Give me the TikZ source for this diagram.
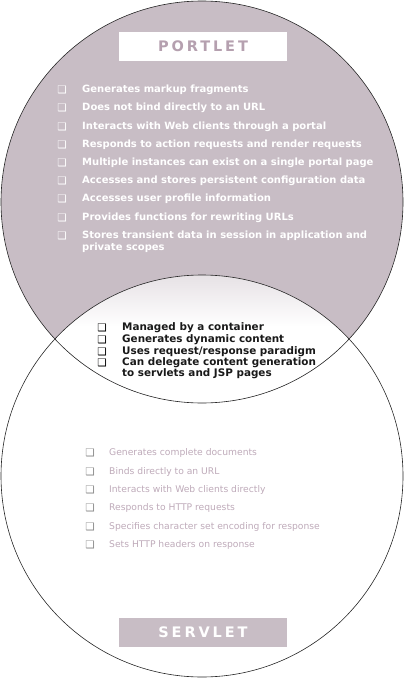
\documentclass[tikz,border=0pt]{standalone}
\usepackage{fontspec}
\setmainfont{DejaVu Sans}
\usepackage{tikz}

\definecolor{mauve}{RGB}{200,189,197}
\definecolor{mauvetext}{RGB}{181,160,175}
\definecolor{servtext}{RGB}{190,170,185}
\pgfdeclareverticalshading{lensshade}{100bp}{color(0bp)=(black!12); color(12bp)=(white); color(55bp)=(white); color(100bp)=(mauve)}

\begin{document}
\begin{tikzpicture}[x=1pt, y=-1pt]
	  \tikzstyle{every node} = [inner sep=0pt]
	  \tikzstyle{titlebox} = [minimum width=168pt, minimum height=29pt, font=\bfseries\fontsize{14.5}{15}\selectfont\addfontfeature{LetterSpace=20}]
	  \tikzstyle{bullet} = [font=\fontsize{10.5}{10.5}\selectfont]
	  \tikzstyle{item} = [anchor=west, text height=7.3pt, text depth=2pt, font=\bfseries\fontsize{10}{10}\selectfont]
	  \tikzstyle{bothitem} = [item, text=black!90, font=\bfseries\fontsize{10.4}{10.4}\selectfont]
	  \tikzstyle{servitem} = [anchor=west, text=servtext, text height=6.8pt, text depth=1.9pt, font=\fontsize{9.2}{9.2}\selectfont]
	  \useasboundingbox (0,0) rectangle (405,679);
	  % the two circles and their common part
	  \fill[mauve] (202,202) circle (201pt);
	  \begin{scope}
	  \clip (202,202) circle (201pt);
	  \clip (202,476) circle (201pt);
	  \shade[shading=lensshade] (0,275) rectangle (405,404);
	  \end{scope}
	  \draw[line width=0.6pt, black!85] (202,202) circle (201pt);
	  \draw[line width=0.6pt, black!85] (202,476) circle (201pt);
	  % titles
	  \node[titlebox, fill=white, text=mauvetext] (portlet) at (203,46.5) {PORTLET};
	  \node[titlebox, fill=mauve, text=white] (servlet) at (203,632.5) {SERVLET};
	  % portlet only
	  \foreach \y/\txt [count=\i] in {90/Generates markup fragments,
	      108/Does not bind directly to an URL,
	      127/Interacts with Web clients through a portal,
	      145/Responds to action requests and render requests,
	      163/Multiple instances can exist on a single portal page,
	      181/Accesses and stores persistent configuration data,
	      199/Accesses user profile information,
	      218/Provides functions for rewriting URLs,
	      236/Stores transient data in session in application and}
	    {
	    \node[bullet, text=white] (pb\i) at (62,\y) {❑};
	    \node[item, text=white] (pi\i) at (82,\y) {\txt};
	    }
	  \node[item, text=white] (pi9b) at (82,247.5) {private scopes};
	  % both
	  \foreach \y/\txt [count=\i] in {328/Managed by a container,
	      340/Generates dynamic content,
	      352/{Uses request/response paradigm},
	      363/Can delegate content generation}
	    {
	    \node[bullet, text=black] (bb\i) at (102,\y) {❑};
	    \node[bothitem] (bi\i) at (122,\y) {\txt};
	    }
	  \node[bothitem] (bi4b) at (122,374) {to servlets and JSP pages};
	  % servlet only
	  \foreach \y/\txt [count=\i] in {453/Generates complete documents,
	      472/Binds directly to an URL,
	      490/Interacts with Web clients directly,
	      508/Responds to HTTP requests,
	      527/Specifies character set encoding for response,
	      545/Sets HTTP headers on response}
	    {
	    \node[bullet, text=black!45] (sb\i) at (90,\y) {❑};
	    \node[servitem] (si\i) at (109,\y) {\txt};
	    }
\end{tikzpicture}
\end{document}
